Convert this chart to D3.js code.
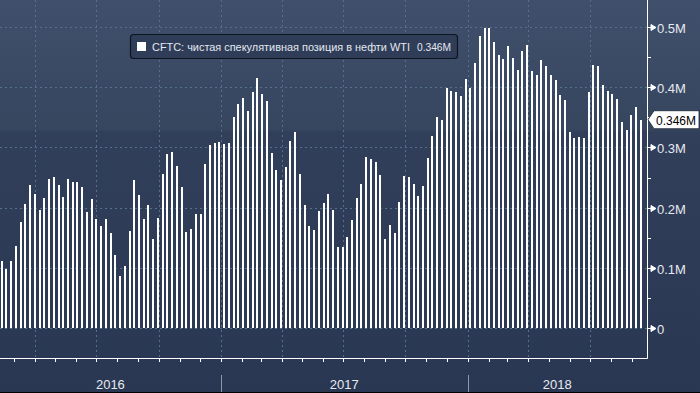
<!DOCTYPE html>
<html><head><meta charset="utf-8">
<script src="https://cdn.jsdelivr.net/npm/d3@7"></script>
<style>
body{margin:0;background:#2c3a55;}
svg{display:block;font-family:"Liberation Sans",Arial,sans-serif;}
</style>
</head><body>
<svg id="c" width="700" height="393"></svg>
<script>
// ---- data ----
const firstDate = "2016-02-12";   // weekly observations
const values = [
0.111,0.0985,0.111,0.136,0.176,0.206,0.2375,0.2225,0.196,0.216,
0.2475,0.251,0.2375,0.2175,0.2475,0.2425,0.2425,0.234,0.193,0.214,
0.181,0.169,0.181,0.158,0.122,0.0864,0.103,0.161,0.246,0.221,
0.181,0.204,0.148,0.183,0.256,0.289,0.292,0.269,0.235,0.159,
0.164,0.189,0.189,0.272,0.304,0.307,0.309,0.306,0.307,0.3505,
0.372,0.382,0.3605,0.392,0.415,0.389,0.377,0.291,0.2625,0.246,
0.2675,0.3105,0.3255,0.256,0.204,0.169,0.163,0.194,0.2075,0.2225,
0.196,0.1345,0.1345,0.151,0.179,0.216,0.239,0.284,0.281,0.2755,
0.254,0.148,0.171,0.158,0.209,0.2525,0.251,0.239,0.219,0.236,
0.2825,0.319,0.3505,0.3455,0.3987,0.3937,0.392,0.3854,0.4136,0.3987,
0.440,0.485,0.498,0.498,0.475,0.4535,0.447,0.468,0.4485,0.4286,
0.460,0.470,0.427,0.420,0.445,0.435,0.420,0.412,0.387,0.3787,
0.3256,0.3156,0.3173,0.3156,0.392,0.437,0.435,0.4037,0.3937,0.3887,
0.380,0.342,0.329,0.354,0.367,0.346];
const yTicks = [0,0.1,0.2,0.3,0.4,0.5];
const yTickLabels = ["0","0.1M","0.2M","0.3M","0.4M","0.5M"];
const years = ["2016","2017","2018"];
const legendLabel = "CFTC: чистая спекулятивная позиция в нефти WTI";
const lastLabel = "0.346M";

// ---- layout ----
const W = 700, H = 393;
const plotR = 647, axisY = 358;
const svg = d3.select("#c");
const parse = d3.timeParse("%Y-%m-%d");
const d0 = parse(firstDate);
const dates = values.map((v,i)=>d3.timeDay.offset(d0, 7*i));

const x = d3.scaleTime().domain([dates[0], dates[dates.length-1]]).range([1.7, 640.7]);
const y = d3.scaleLinear().domain([0, 0.5]).range([328, 27]);

// background
const defs = svg.append("defs");
const g = defs.append("linearGradient").attr("id","bg").attr("x1",0).attr("y1",0).attr("x2",0).attr("y2",1);
[[0,"#404f6b"],[0.33,"#37465f"],[0.335,"#323f5b"],[1,"#2a3752"]].forEach(s=>g.append("stop").attr("offset",s[0]).attr("stop-color",s[1]));
svg.append("rect").attr("width",W).attr("height",H).attr("fill","url(#bg)");

// grid
const gridColor = "#55708c";
svg.append("g").selectAll("line").data(yTicks).join("line")
  .attr("x1",0).attr("x2",plotR).attr("y1",d=>Math.round(y(d))+0.5).attr("y2",d=>Math.round(y(d))+0.5)
  .attr("stroke",gridColor).attr("stroke-dasharray","2,3").attr("stroke-width",1);
const quarters = d3.timeMonth.every(3).range(new Date(2016,0,1), new Date(2018,11,31)).filter(d=>x(d)>0 && x(d)<plotR);
svg.append("g").selectAll("line").data(quarters).join("line")
  .attr("x1",d=>Math.round(x(d))+0.5).attr("x2",d=>Math.round(x(d))+0.5).attr("y1",0).attr("y2",axisY)
  .attr("stroke",gridColor).attr("stroke-dasharray","2,3").attr("stroke-width",1);

// bars
svg.append("g").selectAll("rect").data(values).join("rect")
  .attr("x",(d,i)=>Math.round(x(dates[i])-1))
  .attr("width",2)
  .attr("y",d=>y(d))
  .attr("height",d=>y(0)-y(d))
  .attr("fill","#ffffff")
  .attr("shape-rendering","crispEdges");

// bottom axis
svg.append("line").attr("x1",0).attr("x2",plotR+0.5).attr("y1",axisY+0.5).attr("y2",axisY+0.5).attr("stroke","#ffffff");
const months = d3.timeMonth.range(new Date(2016,0,1), new Date(2018,11,31)).filter(d=>x(d)>0 && x(d)<plotR);
svg.append("g").selectAll("line").data(months).join("line")
  .attr("x1",d=>Math.round(x(d))+0.5).attr("x2",d=>Math.round(x(d))+0.5).attr("y1",axisY).attr("y2",axisY+4)
  .attr("stroke","#ffffff");

// year separators & labels
const yearStarts = years.map(yr=>new Date(+yr,0,1));
svg.append("g").selectAll("line").data(yearStarts.filter(d=>x(d)>0)).join("line")
  .attr("x1",d=>Math.round(x(d))+0.5).attr("x2",d=>Math.round(x(d))+0.5).attr("y1",375).attr("y2",392)
  .attr("stroke","#8d97a8");
svg.append("g").selectAll("text").data(years).join("text")
  .attr("x",(d)=>{const a=Math.max(0,x(new Date(+d,0,1))), b=Math.min(plotR,x(new Date(+d+1,0,1))); return (a+b)/2;})
  .attr("y",389).attr("text-anchor","middle")
  .attr("font-size",13).attr("fill","#e6eaf0").text(d=>d);
svg.append("line").attr("x1",0).attr("x2",W).attr("y1",392.5).attr("y2",392.5).attr("stroke","#000");

// right axis
svg.append("line").attr("x1",plotR+0.5).attr("x2",plotR+0.5).attr("y1",0).attr("y2",axisY+0.5).attr("stroke","#ffffff");
const minor = [0.05,0.15,0.25,0.35,0.45];
svg.append("g").selectAll("line").data(minor).join("line")
  .attr("x1",plotR).attr("x2",plotR+4).attr("y1",d=>Math.round(y(d))+0.5).attr("y2",d=>Math.round(y(d))+0.5)
  .attr("stroke","#ffffff");
const yt = svg.append("g").selectAll("g").data(yTicks).join("g")
  .attr("transform",d=>`translate(0,${Math.round(y(d))+0.5})`);
yt.append("path").attr("d",`M${plotR},0 L${plotR+5},0 M${plotR+4},-3 L${plotR+9},0 L${plotR+4},3 Z`)
  .attr("stroke","#ffffff").attr("fill","#ffffff").attr("stroke-width",1);
yt.append("text").attr("x",657).attr("y",5).attr("font-size",13).attr("fill","#e6eaf0")
  .text((d,i)=>yTickLabels[i]);

// last value tag
const ly = y(values[values.length-1]);
svg.append("path")
  .attr("d",`M648,${ly} L654,${ly-9} L699,${ly-9} L699,${ly+9} L654,${ly+9} Z`)
  .attr("fill","#ffffff").attr("stroke","#1a2233").attr("stroke-width",0.8);
svg.append("text").attr("x",656).attr("y",ly+5).attr("font-size",13).attr("fill","#000")
  .attr("textLength",40).attr("lengthAdjust","spacingAndGlyphs").text(lastLabel);

// legend
svg.append("rect").attr("x",130.5).attr("y",34.5).attr("width",327).attr("height",24).attr("rx",3)
  .attr("fill","#2f3d58").attr("stroke","#0e1521").attr("stroke-width",1.2);
svg.append("rect").attr("x",137).attr("y",42).attr("width",9).attr("height",9).attr("fill","#ffffff");
svg.append("text").attr("x",152).attr("y",50.5).attr("font-size",11).attr("fill","#e3e8ef")
  .attr("textLength",258).attr("lengthAdjust","spacingAndGlyphs").text(legendLabel);
svg.append("text").attr("x",417).attr("y",50.5).attr("font-size",11).attr("fill","#e3e8ef")
  .attr("textLength",34).attr("lengthAdjust","spacingAndGlyphs").text(lastLabel);
</script>
</body></html>
